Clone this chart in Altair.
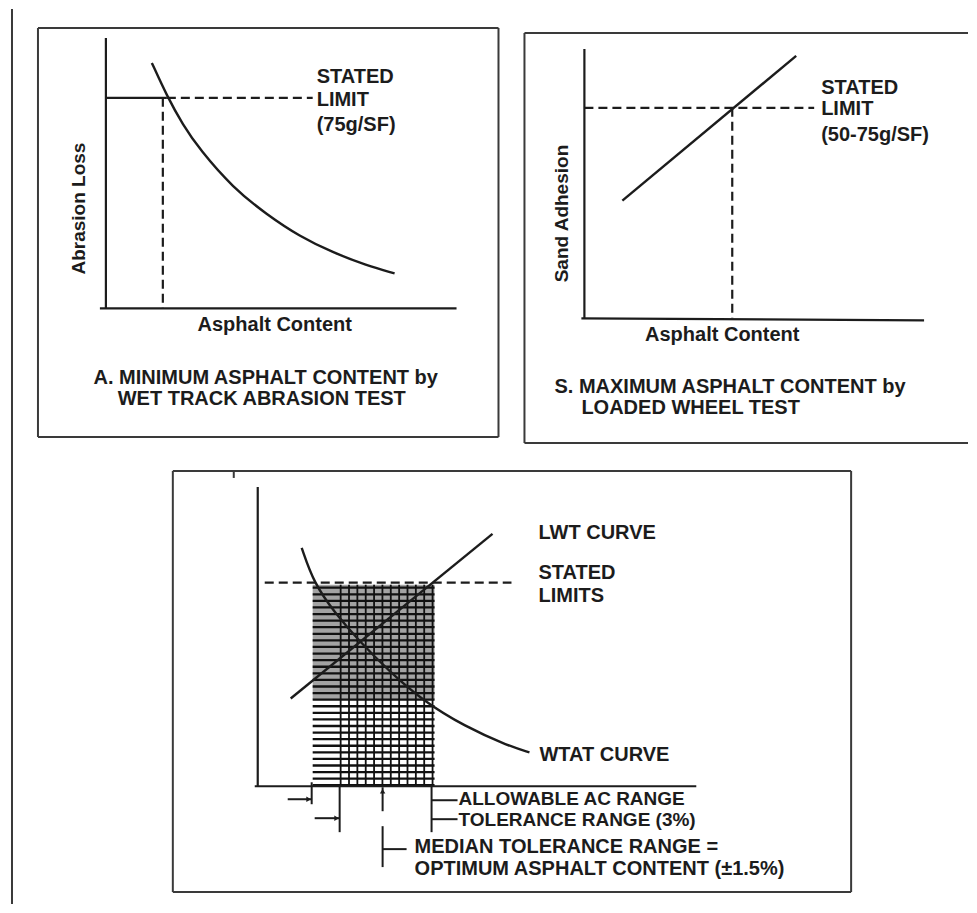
import altair as alt
import pandas as pd
import numpy as np

# Drawing canvas expressed in reference-image pixel units
X_DOMAIN = [8, 969]
Y_DOMAIN = [8, 905]

# ---- frame lines: page rule, panel boxes (x1, y1, x2, y2)
FRAME_X1 = [12, 38, 38, 38, 499, 525, 525, 525, 173, 173, 173, 852, 234]
FRAME_Y1 = [8, 27, 437, 27, 27, 32, 443, 32, 471, 893, 471, 471, 471]
FRAME_X2 = [12, 499, 499, 38, 499, 969, 969, 525, 852, 852, 173, 852, 234]
FRAME_Y2 = [905, 27, 437, 437, 437, 32, 443, 443, 471, 893, 893, 893, 478]

# ---- axes and solid guide segments
AXIS_X1 = [106, 100, 106, 585, 582, 258, 255]
AXIS_Y1 = [37, 308, 97, 48, 318, 487, 787]
AXIS_X2 = [106, 457, 167, 585, 925, 258, 697]
AXIS_Y2 = [308, 308, 97, 318, 320, 787, 787]

# ---- dashed "stated limit" guides
DASH_X1 = [167, 163, 585, 733, 265]
DASH_Y1 = [97, 97, 107, 107, 583]
DASH_X2 = [313, 163, 815, 733, 512]
DASH_Y2 = [97, 308, 107, 318, 583]

# ---- range annotation brackets under panel C
ANN_X1 = [288, 312, 315, 340, 383, 383, 383, 432, 432, 432]
ANN_Y1 = [800, 783, 819, 787, 788, 827, 850, 787, 801, 820]
ANN_X2 = [312, 312, 340, 340, 383, 383, 407, 432, 458, 458]
ANN_Y2 = [800, 805, 819, 833, 812, 868, 850, 833, 801, 820]

ARROW_X = [309, 337, 383]
ARROW_Y = [800, 819, 792]
ARROW_SHAPE = ["triangle-right", "triangle-right", "triangle-up"]

# ---- curves
WTAT_A_X = [152, 167, 183, 200, 233, 267, 300, 333, 367, 395]
WTAT_A_Y = [62, 95, 124, 149, 187, 214, 236, 252, 265, 273]
LWT_B_X = [623, 797]
LWT_B_Y = [200, 55]
WTAT_C_X = [302, 314, 335, 360, 390, 423, 465, 510, 530]
WTAT_C_Y = [548, 583, 613, 642, 672, 701, 727, 747, 753]
LWT_C_X = [291, 493]
LWT_C_Y = [699, 534]

# ---- hatched allowable range block
HATCH_LEFT, HATCH_RIGHT = 313, 435
HATCH_TOP, HATCH_BOTTOM = 585, 787
HATCH_COLS_LEFT, HATCH_COLS_RIGHT = 341, 433
SHADE_BOTTOM = 700

# ---- texts
LEFT_TEXT = ["STATED", "LIMIT", "(75g/SF)",
             "STATED", "LIMIT", "(50-75g/SF)",
             "S. MAXIMUM ASPHALT CONTENT by", "LOADED WHEEL TEST",
             "LWT CURVE", "STATED", "LIMITS", "WTAT CURVE",
             "MEDIAN TOLERANCE RANGE =", "OPTIMUM ASPHALT CONTENT (±1.5%)"]
LEFT_X = [317, 317, 317, 822, 822, 822, 555, 582, 539, 539, 539, 540, 415, 415]
LEFT_Y = [76, 99, 124, 87, 108, 134, 387, 408, 533, 573, 596, 756, 848, 870]

RANGE_TEXT = ["ALLOWABLE AC RANGE", "TOLERANCE RANGE (3%)"]
RANGE_X = [459, 459]
RANGE_Y = [800, 821]

CENTER_TEXT = ["Asphalt Content", "A. MINIMUM ASPHALT CONTENT by",
               "WET TRACK ABRASION TEST", "Asphalt Content"]
CENTER_X = [275, 266, 262, 723]
CENTER_Y = [325, 378, 399, 335]

ROT_TEXT = ["Abrasion Loss", "Sand Adhesion"]
ROT_X = [79, 563]
ROT_Y = [208, 213]

INK = "#1c1c1c"
FONT = "Liberation Sans"

xs = alt.Scale(domain=X_DOMAIN, nice=False, zero=False)
ys = alt.Scale(domain=Y_DOMAIN, nice=False, zero=False, reverse=True)


def seg_df(x1, y1, x2, y2):
    return pd.DataFrame({"x": x1, "y": y1, "x2": x2, "y2": y2})


def rules(df, width, dash=None, color=INK):
    kw = dict(strokeWidth=width, color=color, strokeCap="butt")
    if dash:
        kw["strokeDash"] = dash
    return alt.Chart(df).mark_rule(**kw).encode(
        x=alt.X("x:Q", scale=xs, axis=None),
        y=alt.Y("y:Q", scale=ys, axis=None),
        x2="x2:Q",
        y2="y2:Q",
    )


frame = rules(seg_df(FRAME_X1, FRAME_Y1, FRAME_X2, FRAME_Y2), 2, color="#3a3a3a")
axes = rules(seg_df(AXIS_X1, AXIS_Y1, AXIS_X2, AXIS_Y2), 2.2)
dashed = rules(seg_df(DASH_X1, DASH_Y1, DASH_X2, DASH_Y2), 2.2, dash=[9, 5])
ann = rules(seg_df(ANN_X1, ANN_Y1, ANN_X2, ANN_Y2), 2)

# hatch texture (regular grid lines; a fill pattern, not data)
h_ys = list(np.arange(HATCH_TOP + 3, HATCH_BOTTOM, 6.6))
h_df = seg_df([HATCH_LEFT] * len(h_ys), h_ys, [HATCH_RIGHT] * len(h_ys), h_ys)
v_xs = list(np.linspace(HATCH_COLS_LEFT, HATCH_COLS_RIGHT, 12))
v_df = seg_df(v_xs, [HATCH_TOP] * len(v_xs), v_xs, [HATCH_BOTTOM] * len(v_xs))
hatch_h = rules(h_df, 2.3, color="#111111")
hatch_v = rules(v_df, 1.8, color="#111111")
shade = alt.Chart(pd.DataFrame({"x": [HATCH_LEFT], "y": [HATCH_TOP],
                                "x2": [HATCH_RIGHT], "y2": [SHADE_BOTTOM]})).mark_rect(
    color="#8c8c8c", opacity=0.8).encode(
    x=alt.X("x:Q", scale=xs, axis=None), y=alt.Y("y:Q", scale=ys, axis=None),
    x2="x2:Q", y2="y2:Q")

curves_df = pd.concat([
    pd.DataFrame({"x": WTAT_A_X, "y": WTAT_A_Y, "c": "wtat_a", "o": range(len(WTAT_A_X))}),
    pd.DataFrame({"x": LWT_B_X, "y": LWT_B_Y, "c": "lwt_b", "o": range(len(LWT_B_X))}),
    pd.DataFrame({"x": WTAT_C_X, "y": WTAT_C_Y, "c": "wtat_c", "o": range(len(WTAT_C_X))}),
    pd.DataFrame({"x": LWT_C_X, "y": LWT_C_Y, "c": "lwt_c", "o": range(len(LWT_C_X))}),
])
curves = alt.Chart(curves_df).mark_line(
    color=INK, strokeWidth=2.4, interpolate="basis").encode(
    x=alt.X("x:Q", scale=xs, axis=None),
    y=alt.Y("y:Q", scale=ys, axis=None),
    detail="c:N",
    order="o:Q",
)

arrows = alt.Chart(pd.DataFrame({"x": ARROW_X, "y": ARROW_Y, "s": ARROW_SHAPE})).mark_point(
    filled=True, color=INK, size=30, opacity=1).encode(
    x=alt.X("x:Q", scale=xs, axis=None),
    y=alt.Y("y:Q", scale=ys, axis=None),
    shape=alt.Shape("s:N", scale=None, legend=None),
)


def texts(words, tx, ty, align, angle=0, size=20, weight="bold"):
    kw = dict(font=FONT, fontSize=size, fontWeight=weight, align=align,
              baseline="middle", color=INK)
    if angle:
        kw["angle"] = angle
    return alt.Chart(pd.DataFrame({"x": tx, "y": ty, "t": words})).mark_text(**kw).encode(
        x=alt.X("x:Q", scale=xs, axis=None),
        y=alt.Y("y:Q", scale=ys, axis=None),
        text="t:N",
    )


t_left = texts(LEFT_TEXT, LEFT_X, LEFT_Y, "left")
t_range = texts(RANGE_TEXT, RANGE_X, RANGE_Y, "left", size=19)
t_center = texts(CENTER_TEXT, CENTER_X, CENTER_Y, "center")
t_rot = texts(ROT_TEXT, ROT_X, ROT_Y, "center", angle=270, size=19)

chart = alt.layer(
    frame, shade, hatch_h, hatch_v, axes, dashed, ann, curves, arrows,
    t_left, t_range, t_center, t_rot,
).properties(
    width=961, height=897,
    autosize=alt.AutoSizeParams(type="fit", contains="padding"),
    padding=0,
).configure_view(strokeWidth=0)

chart.save("out.html", embed_options={"renderer": "svg", "actions": False})
